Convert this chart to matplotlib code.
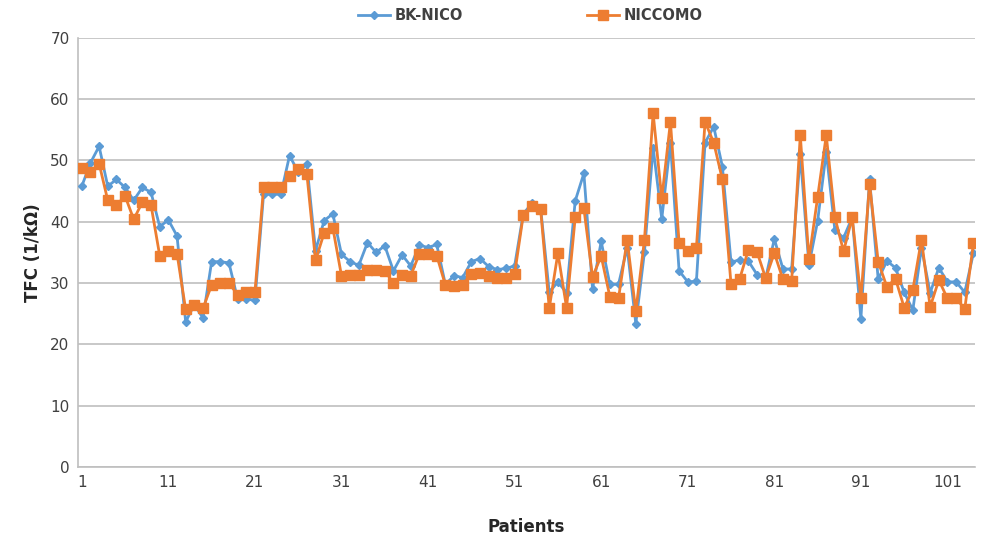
import numpy as np
import matplotlib.pyplot as plt

# TFC-Werte je Patient
bk_nico = [45.8, 49.6, 52.3, 45.8, 46.9, 45.6, 43.5, 45.6, 44.8, 39.2,
           40.3, 37.7, 23.7, 26.5, 24.3, 33.5, 33.5, 33.3, 27.4, 27.4,
           27.2, 44.5, 44.5, 44.5, 50.8, 48.1, 49.4, 35.3, 40.2, 41.3,
           34.7, 33.5, 32.9, 36.6, 35.0, 36.1, 32.0, 34.6, 32.8, 36.2,
           35.8, 36.3, 29.8, 31.2, 30.9, 33.5, 34.0, 32.7, 32.2, 32.4,
           32.8, 41.3, 43.0, 42.3, 28.5, 30.2, 28.4, 43.4, 47.9, 29.1,
           36.8, 29.8, 29.8, 35.8, 23.4, 35.1, 52.1, 40.5, 52.9, 32.0,
           30.2, 30.3, 52.9, 55.5, 49.0, 33.4, 33.8, 33.6, 31.4, 30.8,
           37.2, 32.3, 32.3, 51.0, 32.9, 40.1, 51.4, 38.6, 37.4, 40.7,
           24.2, 47.0, 30.6, 33.6, 32.5, 28.5, 25.6, 35.8, 28.4, 32.5,
           30.2, 30.2, 28.5, 34.9]

niccomo = [48.7, 48.1, 49.5, 43.5, 42.7, 44.2, 40.4, 43.2, 42.7, 34.5,
           35.2, 34.8, 25.7, 26.4, 25.9, 29.7, 30.1, 30.0, 28.1, 28.5,
           28.5, 45.6, 45.6, 45.6, 47.5, 48.6, 47.8, 33.7, 38.2, 39.0,
           31.2, 31.3, 31.3, 32.2, 32.2, 32.0, 30.0, 31.3, 31.2, 34.8,
           34.7, 34.5, 29.7, 29.5, 29.7, 31.5, 31.6, 31.2, 30.8, 30.8,
           31.5, 41.1, 42.5, 42.1, 25.9, 34.9, 26.0, 40.7, 42.2, 31.0,
           34.4, 27.8, 27.5, 37.1, 25.4, 37.1, 57.7, 43.8, 56.3, 36.6,
           35.2, 35.8, 56.3, 52.9, 46.9, 29.8, 30.7, 35.4, 35.1, 30.8,
           34.9, 30.6, 30.3, 54.1, 33.9, 44.0, 54.1, 40.7, 35.2, 40.7,
           27.5, 46.2, 33.5, 29.4, 30.7, 26.0, 28.9, 37.1, 26.1, 30.5,
           27.5, 27.5, 25.8, 36.5]

patienten = np.arange(1, len(bk_nico) + 1)
x_ticks = list(range(1, 102, 10))
y_ticks = list(range(0, 71, 10))

fig = plt.figure(figsize=(9.86, 5.4), dpi=100)
ax = fig.add_axes([0.079, 0.135, 0.91, 0.795])

ax.plot(patienten, bk_nico, color="#5B9BD5", linewidth=2, marker="D",
        markersize=4.2, label="BK-NICO", zorder=3)
ax.plot(patienten, niccomo, color="#ED7D31", linewidth=2, marker="s",
        markersize=7, label="NICCOMO", zorder=4)

ax.set_xlim(0.55, 104.2)
ax.set_ylim(0, 70)
ax.set_xticks(x_ticks)
ax.set_yticks(y_ticks)
ax.tick_params(axis="both", length=0, labelsize=11, colors="#404040", pad=6)
ax.grid(True, axis="y", color="#BFBFBF", linewidth=1.2)
ax.set_axisbelow(True)
for s in ["top", "right"]:
    ax.spines[s].set_visible(False)
for s in ["left", "bottom"]:
    ax.spines[s].set_color("#BFBFBF")
    ax.spines[s].set_linewidth(1.2)

ax.set_xlabel("Patients", fontsize=12, fontweight="bold", color="#262626", labelpad=20)
ax.set_ylabel("TFC (1/kΩ)", fontsize=12, fontweight="bold", color="#262626", labelpad=6)

fig.legend(loc="upper center", bbox_to_anchor=(0.538, 1.01), ncol=2, frameon=False,
           handlelength=2.2, handletextpad=0.3, columnspacing=8.5,
           prop={"weight": "bold", "size": 10.5}, labelcolor="#404040")

fig.savefig("out.png", dpi=100)
